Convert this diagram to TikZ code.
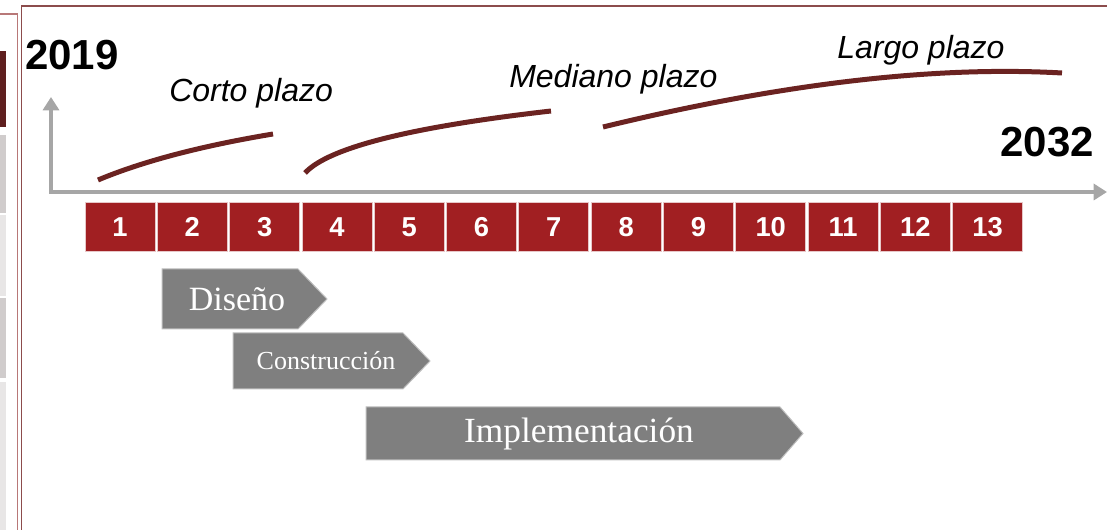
\documentclass[tikz,border=0pt]{standalone}
\usepackage{fontspec}
\setmainfont{Liberation Serif}
\setsansfont{Liberation Sans}
\usetikzlibrary{arrows.meta}
\definecolor{boxred}{RGB}{161,31,34}
\definecolor{curvered}{RGB}{107,35,33}
\definecolor{axisgray}{RGB}{166,166,166}
\definecolor{phasegray}{RGB}{127,127,127}
\definecolor{phaseedge}{RGB}{190,190,190}
\definecolor{framered}{RGB}{184,120,120}
\definecolor{framedark}{RGB}{140,76,76}
\definecolor{panelred}{RGB}{95,31,31}
\definecolor{panelgray}{RGB}{208,204,204}
\definecolor{panellight}{RGB}{232,230,230}
\tikzset{
  year/.style={font=\sffamily\bfseries\fontsize{31.5}{36}\selectfont, inner sep=0pt},
  term/.style={font=\sffamily\itshape\fontsize{24}{29}\selectfont, inner sep=0pt, anchor=base west},
  yearbox/.style={fill=boxred, draw=white!75!boxred, line width=0.6pt, minimum width=52.5pt, minimum height=36.75pt, inner sep=0pt, text=white, text height=14.7pt, text depth=0pt, font=\sffamily\bfseries\fontsize{20.5}{24}\selectfont},
  phase/.style={fill=phasegray, draw=phaseedge, line width=0.75pt},
  phasetext/.style={text=white, inner sep=0pt},
  axis/.style={draw=axisgray, line width=3pt, line join=miter, {Triangle[width=12pt,length=10pt]}-{Triangle[width=12pt,length=10pt]}},
  termcurve/.style={draw=curvered, line width=3.75pt}
}
\begin{document}
\begin{tikzpicture}[x=0.75pt,y=-0.75pt]
\useasboundingbox (0,0) rectangle (1107,530);
% left panel of the screenshot
\fill[panelred] (0,51) rectangle (6,127);
\fill[panelgray] (0,135) rectangle (6,213);
\fill[panellight] (0,215) rectangle (6,296);
\fill[panelgray] (0,298) rectangle (6,378);
\fill[panellight] (0,382) rectangle (6,530);
\draw[framered, line width=0.9pt] (0,14) -- (17.5,14) -- (17.5,530);
\draw[framedark, line width=0.9pt] (21.5,530) -- (21.5,6) -- (1107,6);
% axis
\coordinate (axtop) at (51,97);
\coordinate (origin) at (51,192);
\coordinate (axend) at (1107,192);
\draw[axis] (axtop) -- (origin) -- (axend);
% years
\node[year, anchor=base west] (y2019) at (25,70) {2019};
\node[year, anchor=base east] (y2032) at (1094,157) {2032};
% term labels
\node[term] (corto) at (169,102) {Corto plazo};
\node[term] (mediano) at (509,88) {Mediano plazo};
\node[term] (largo) at (837,59) {Largo plazo};
% term curves
\coordinate (c1s) at (98,180); \coordinate (c1e) at (273,134);
\coordinate (c2s) at (305,173); \coordinate (c2e) at (551,111);
\coordinate (c3s) at (603,127); \coordinate (c3e) at (1062,73);
\draw[termcurve] (c1s) .. controls (142.7,161.3) and (201,146) .. (c1e);
\draw[termcurve] (c2s) .. controls (328.3,147.7) and (410.3,127) .. (c2e);
\draw[termcurve] (c3s) .. controls (781,83.7) and (934,65.7) .. (c3e);
% year boxes
\foreach \i in {1,...,13}{
  \node[yearbox] (b\i) at ({120+(\i-1)*72.3},226.5) {\i};
}
% phases
\path[phase] (162,269) -- (298,269) -- (327,299) -- (298,329) -- (162,329) -- cycle;
\node[phasetext, font=\fontsize{25.5}{30}\selectfont] (diseno) at (237,299) {Diseño};
\path[phase] (233,333) -- (403,333) -- (430,361) -- (403,389) -- (233,389) -- cycle;
\node[phasetext, font=\fontsize{19.5}{24}\selectfont] (construccion) at (326,361) {Construcción};
\path[phase] (366,407) -- (780,407) -- (803,433.5) -- (780,460) -- (366,460) -- cycle;
\node[phasetext, font=\fontsize{26.5}{31}\selectfont] (implementacion) at (579,433.5) {Implementación};
\end{tikzpicture}
\end{document}
